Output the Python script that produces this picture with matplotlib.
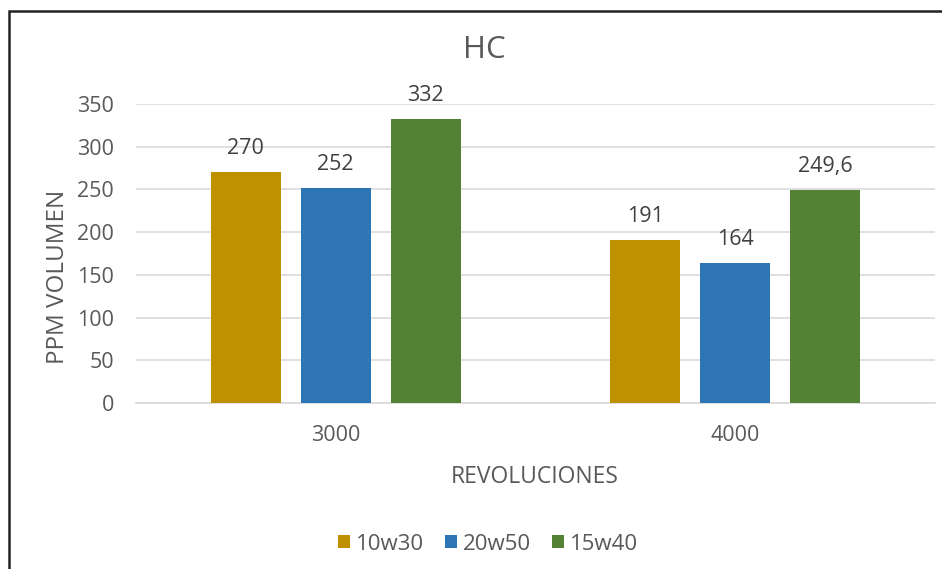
import matplotlib
matplotlib.use("Agg")
import matplotlib.pyplot as plt
from matplotlib.patches import Rectangle
import numpy as np

plt.rcParams['font.family'] = ['Open Sans', 'DejaVu Sans']

categories = ["3000", "4000"]
series_names = ["10w30", "20w50", "15w40"]
values_10w30 = [270, 191]
values_20w50 = [252, 164]
values_15w40 = [332, 249.6]
label_10w30 = ["270", "191"]
label_20w50 = ["252", "164"]
label_15w40 = ["332", "249,6"]
yticks = [0, 50, 100, 150, 200, 250, 300, 350]

colors = ["#BF9000", "#2E75B6", "#548235"]
text_color = "#595959"

W, H = 942, 569
fig = plt.figure(figsize=(W / 100, H / 100), dpi=100)
ax = fig.add_axes([136 / W, 1 - 403 / H, (935 - 136) / W, (403 - 104) / H])

x = np.arange(len(categories))
width = 0.175
offset = 0.225
series = [values_10w30, values_20w50, values_15w40]
labels = [label_10w30, label_20w50, label_15w40]
for i, (vals, labs) in enumerate(zip(series, labels)):
    bars = ax.bar(x + (i - 1) * offset, vals, width, color=colors[i], label=series_names[i], zorder=3)
    for b, lab in zip(bars, labs):
        ax.annotate(lab, (b.get_x() + b.get_width() / 2, b.get_height()),
                    xytext=(0, 9.5), textcoords="offset points", ha="center", va="bottom",
                    fontsize=15.5, color="#404040")

ax.set_xlim(-0.5, 1.5)
ax.set_ylim(0, 350)
ax.set_yticks(yticks)
ax.set_yticklabels([str(t) for t in yticks])
ax.set_xticks(x)
ax.set_xticklabels(categories)
ax.tick_params(axis='both', length=0, labelsize=15.5, labelcolor=text_color)
ax.tick_params(axis='y', pad=16)
ax.tick_params(axis='x', pad=16)
ax.grid(axis='y', color="#D9D9D9", linewidth=1.2, zorder=0)
for s in ["top", "right", "left"]:
    ax.spines[s].set_visible(False)
ax.spines["bottom"].set_color("#D9D9D9")
ax.spines["bottom"].set_linewidth(1.2)

fig.text(484 / W, 1 - 50 / H, "HC", ha="center", va="center", fontsize=22.5, color=text_color)
fig.text(535 / W, 1 - 477 / H, "REVOLUCIONES", ha="center", va="center", fontsize=16.5, color=text_color)
fig.text(58 / W, 1 - 277 / H, "PPM VOLUMEN", ha="center", va="center", rotation=90, fontsize=17.5, color=text_color)

leg = fig.legend(loc="center", bbox_to_anchor=(488 / W, 1 - 544 / H), ncol=3, frameon=False,
                 fontsize=16, handlelength=0.55, handleheight=0.55, handletextpad=0.25,
                 columnspacing=0.95, labelcolor=text_color)

fig.add_artist(Rectangle((8.5 / W, -0.1), 2.0, (H - 11.5) / H + 0.1, transform=fig.transFigure,
                         fill=False, edgecolor="#222222", linewidth=1.8))

fig.savefig("out.png", dpi=100)
